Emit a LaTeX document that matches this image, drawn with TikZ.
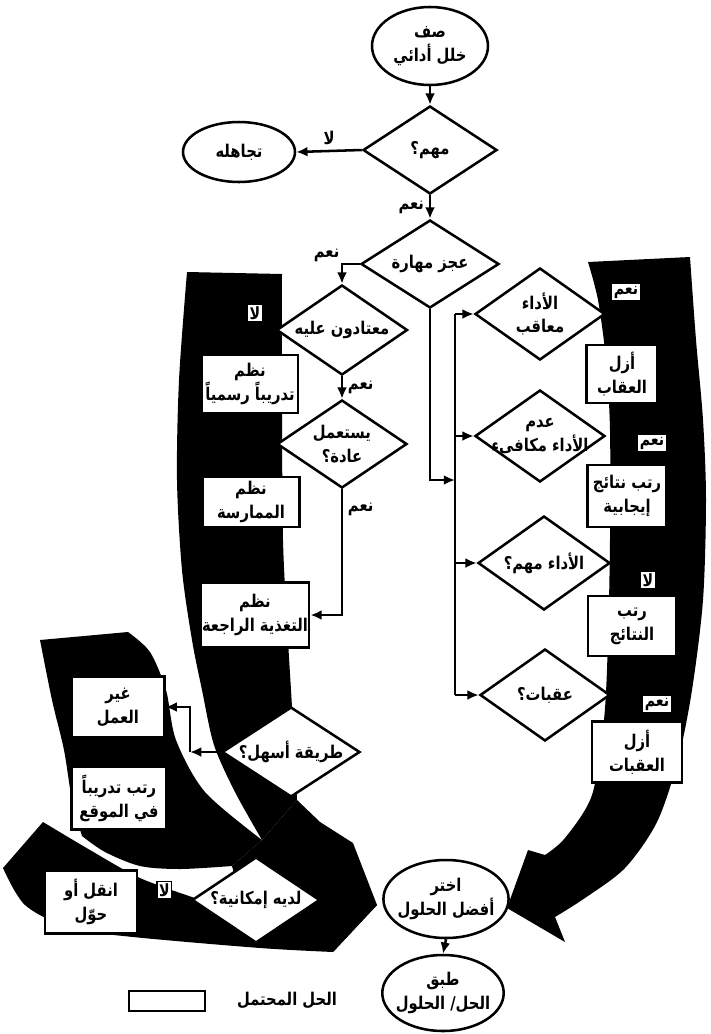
\documentclass[tikz,border=0pt]{standalone}
\usepackage{fontspec}
\usetikzlibrary{shapes.geometric,arrows.meta,positioning}
\newfontfamily\arabicfont[Script=Arabic,FakeStretch=0.84]{DejaVu Sans}
\TeXXeTstate=1
\def\pxl{0.025cm}
\newcommand{\ar}[1]{\beginR#1\endR}
\newcommand{\decision}[6]{\node[decision,minimum width=#4*\pxl,minimum height=#5*\pxl] (#3) at (#1,#2) {};
	\node[align=center] at (#3) {#6};}
\newcommand{\solution}[6]{\node[solution,minimum width=#4*\pxl,minimum height=#5*\pxl] (#3) at (#1,#2) {#6};}
\tikzset{
	band/.style={fill=black},
	decision/.style={diamond,draw,fill=white,line width=1.8pt,inner sep=0pt},
	solution/.style={rectangle,draw,fill=white,line width=1.5pt,align=center,inner sep=1pt},
	terminal/.style={ellipse,draw,fill=white,line width=1.8pt,align=center,inner sep=-3pt},
	tag/.style={rectangle,draw,fill=white,line width=0.8pt,inner sep=1.5pt,font=\arabicfont\bfseries\fontsize{12}{14}\selectfont},
	arr/.style={-{Latex[length=8pt,width=7pt]},line width=1.8pt},
	wire/.style={line width=1.8pt}
}
\begin{document}
\begin{tikzpicture}[x=\pxl,y=-\pxl,every node/.style={font=\arabicfont\bfseries\fontsize{12.5}{17}\selectfont}]
\useasboundingbox (0,0) rectangle (711,1034);
\clip (0,0) rectangle (711,1034);

% black bands behind the solutions
\fill[band] plot[smooth] coordinates {(282,274) (282,400) (283,540) (288,640) (292,707) (297,800)} -- (262,840)
	-- plot[smooth] coordinates {(262,840) (235,792) (214,745) (202,690) (192,640) (182,570) (177,480) (179,380) (187,272)} -- cycle;
\fill[band] (40,640) -- (128,632) -- plot[smooth] coordinates {(128,632) (150,652) (166,690) (176,740) (205,792) (262,840)} -- (232,866)
	-- plot[smooth] coordinates {(232,866) (180,869) (140,866) (105,852) (82,836)}
	-- plot[smooth] coordinates {(82,836) (72,800) (64,750) (52,700) (40,640)} -- cycle;
\fill[band] plot[smooth] coordinates {(43,822) (90,850) (140,878) (195,898)} -- (330,900) -- (377,905) -- (333,952)
	-- plot[smooth] coordinates {(333,952) (260,948) (133,937) (70,928) (25,905) (3,868)} -- cycle;
\fill[band] (262,840) -- (297,800) -- (320,822) -- (353,843) -- (377,905) -- (333,952) -- (290,930) -- (240,895) -- (232,866) -- cycle;
\fill[band] plot[smooth] coordinates {(588,262) (598,300) (606,360) (610,430) (610,540) (608,640) (604,720) (592,795) (565,838) (545,855)}
	-- (528,850) -- (507,908) -- (565,942) -- (555,917)
	-- plot[smooth] coordinates {(555,917) (585,898) (625,868) (657,822) (678,760) (692,690) (703,600) (706,500) (703,420) (696,340) (690,257)} -- cycle;

% main chart
\node[terminal,minimum width=116*\pxl,minimum height=78*\pxl] (problem) at (430,46) {\ar{صف}\\\ar{خلل أدائي}};
\decision{430}{150}{important}{134}{88}{\ar{مهم؟}}
\node[terminal,minimum width=112*\pxl,minimum height=60*\pxl] (ignore) at (239,152) {\ar{تجاهله}};
\decision{430}{264}{deficit}{138}{88}{\ar{عجز مهارة}}
\decision{342}{330}{used}{131}{90}{\ar{معتادون عليه}}
\decision{342}{444}{habit}{130}{88}{\ar{يستعمل}\\\ar{عادة؟}}
\solution{250}{384}{formal}{96}{58}{\ar{نظم}\\\ar{تدريباً رسمياً}}
\solution{251}{502}{practice}{97}{50}{\ar{نظم}\\\ar{الممارسة}}
\solution{255}{615}{feedback}{100}{65}{\ar{نظم}\\\ar{التغذية الراجعة}}
\decision{540}{314}{punished}{130}{92}{\ar{الأداء}\\\ar{معاقب}}
\decision{540}{436}{unrewarded}{130}{92}{\ar{عدم}\\\ar{الأداء مكافىء}}
\decision{544}{563}{matters}{132}{94}{\ar{الأداء مهم؟}}
\decision{545}{695}{obstacles}{130}{92}{\ar{عقبات؟}}
\solution{622}{374}{remove}{71}{58}{\ar{أزل}\\\ar{العقاب}}
\solution{627}{496}{reward}{79}{62}{\ar{رتب نتائج}\\\ar{إيجابية}}
\solution{632}{626}{arrange}{88}{60}{\ar{رتب}\\\ar{النتائج}}
\solution{637}{752}{clear}{90}{61}{\ar{أزل}\\\ar{العقبات}}
\solution{118}{707}{change}{93}{61}{\ar{غير}\\\ar{العمل}}
\decision{291}{752}{easier}{138}{90}{\ar{طريقة أسهل؟}}
\solution{119}{798}{onsite}{95}{63}{\ar{رتب تدريباً}\\\ar{في الموقع}}
\decision{256}{900}{ability}{128}{86}{\ar{لديه إمكانية؟}}
\solution{91}{902}{move}{92}{63}{\ar{انقل أو}\\\ar{حوّل}}
\node[terminal,minimum width=118*\pxl,minimum height=78*\pxl] (choose) at (446,899) {\ar{اختر}\\\ar{أفضل الحلول}};
\node[terminal,minimum width=116*\pxl,minimum height=76*\pxl] (apply) at (443,993) {\ar{طبق}\\\ar{الحل/ الحلول}};

% answers on the bands
\node[tag] (nohabit) at (255,313) {\ar{لا}};
\node[tag] (yespunish) at (626,292) {\ar{نعم}};
\node[tag] (yesreward) at (652,443) {\ar{نعم}};
\node[tag] (nomatter) at (648,580) {\ar{لا}};
\node[tag] (yesobst) at (657,704) {\ar{نعم}};

% legend
\node[solution,minimum width=76*\pxl,minimum height=20*\pxl] (legend) at (167,1001) {};
\node (legendtext) at (287,1000) {\ar{الحل المحتمل}};
\node[font=\rmfamily\bfseries\fontsize{14}{14}\selectfont] (page) at (352,1041) {10};

% connectors
\draw[arr] (problem.south) -- (important.north);
\draw[arr] (important.west) -- (ignore.east) node[midway,above] {\ar{لا}};
\draw[arr] (important.south) -- (deficit.north) node[midway,left] {\ar{نعم}};
\draw[arr] (deficit.west) -| (used.north) node[pos=0.5,above left,inner sep=1pt] {\ar{نعم}};
\draw[arr] (used.south) -- (habit.north) node[midway,right] {\ar{نعم}};
\draw[arr] (habit.south) |- (feedback.east) node[pos=0.08,right] {\ar{نعم}};
\coordinate (bus) at (455,480);
\draw[arr] (deficit.south) |- (bus);
\draw[wire] (punished.west -| bus) -- (obstacles.west -| bus);
\draw[arr] (punished.west -| bus) -- (punished.west);
\draw[arr] (unrewarded.west -| bus) -- (unrewarded.west);
\draw[arr] (matters.west -| bus) -- (matters.west);
\draw[arr] (obstacles.west -| bus) -- (obstacles.west);
\coordinate (fork) at (190,752);
\draw[arr] (easier.west) -- (fork);
\draw[arr] (fork) |- (change.east);
\draw[wire] (ability.west) -- (move.east) node[midway,tag,above=1pt] {\ar{لا}};
\draw[arr] (choose.south) -- (apply.north);
\end{tikzpicture}
\end{document}
